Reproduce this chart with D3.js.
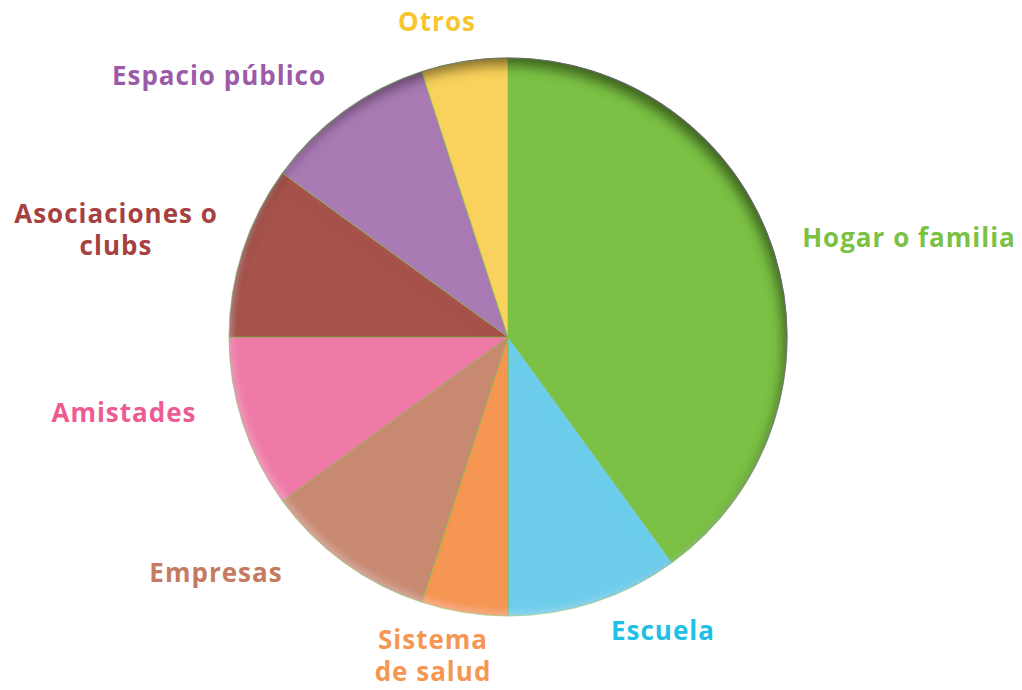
<!DOCTYPE html>
<html>
<head>
<meta charset="utf-8">
<script src="https://cdn.jsdelivr.net/npm/d3@7"></script>
<style>
  body { margin: 0; background: #fff; }
  svg text { font-family: "Open Sans", sans-serif; font-weight: 700; letter-spacing: 1px; }
</style>
</head>
<body>
<svg id="pie" width="1022" height="690"></svg>
<script>
// slices, clockwise from 12 o'clock
var categories = ["Hogar o familia", "Escuela", "Sistema de salud", "Empresas",
                  "Amistades", "Asociaciones o clubs", "Espacio público", "Otros"];
var shares = [40, 10, 5, 10, 10, 10, 10, 5];
var sliceColors = ["#7bc144", "#6dcdeb", "#f59653", "#c98a72",
                   "#ef7aa8", "#a6524b", "#a97ab4", "#f9d15c"];
var labelColors = ["#7bc144", "#1ec0e6", "#f59653", "#c57a62",
                   "#ec5b93", "#a6413f", "#9b5ba8", "#f9c52c"];
// label lines as they are broken in the picture
var labelLines = [["Hogar o familia"], ["Escuela"], ["Sistema", "de salud"], ["Empresas"],
                  ["Amistades"], ["Asociaciones o", "clubs"], ["Espacio público"], ["Otros"]];
// where each label sits (centre x, first baseline y)
var labelPos = [[909, 247], [663, 640], [433, 649], [216, 582],
                [124, 422], [116, 223], [219, 85], [437, 31]];

function drawPie() {
  var svg = d3.select("#pie");
  var cx = 508, cy = 337, radius = 279;

  var defs = svg.append("defs");
  var f = defs.append("filter").attr("id", "inner")
      .attr("x", "-10%").attr("y", "-10%").attr("width", "120%").attr("height", "120%");
  // dark inner shadow along the top-right
  f.append("feOffset").attr("in", "SourceAlpha").attr("dx", -5).attr("dy", 9).attr("result", "off");
  f.append("feGaussianBlur").attr("in", "off").attr("stdDeviation", 6).attr("result", "blur");
  f.append("feComposite").attr("in", "SourceAlpha").attr("in2", "blur")
      .attr("operator", "out").attr("result", "rim");
  f.append("feFlood").attr("flood-color", "#000").attr("flood-opacity", 0.75);
  f.append("feComposite").attr("in2", "rim").attr("operator", "in").attr("result", "shadow");
  // faint light rim along the bottom-left
  f.append("feOffset").attr("in", "SourceAlpha").attr("dx", 3).attr("dy", -4).attr("result", "off2");
  f.append("feGaussianBlur").attr("in", "off2").attr("stdDeviation", 3).attr("result", "blur2");
  f.append("feComposite").attr("in", "SourceAlpha").attr("in2", "blur2")
      .attr("operator", "out").attr("result", "rim2");
  f.append("feFlood").attr("flood-color", "#fff").attr("flood-opacity", 0.18);
  f.append("feComposite").attr("in2", "rim2").attr("operator", "in").attr("result", "light");
  var m = f.append("feMerge");
  m.append("feMergeNode").attr("in", "SourceGraphic");
  m.append("feMergeNode").attr("in", "shadow");
  m.append("feMergeNode").attr("in", "light");

  var grad = defs.append("linearGradient").attr("id", "edge")
      .attr("x1", "0").attr("y1", "1").attr("x2", "1").attr("y2", "0");
  grad.append("stop").attr("offset", "0.45").attr("stop-color", "#888").attr("stop-opacity", 0);
  grad.append("stop").attr("offset", "0.8").attr("stop-color", "#666").attr("stop-opacity", 1);

  var data = categories.map(function(c, i) { return { name: c, value: shares[i], i: i }; });

  var arcs = d3.pie().sort(null).value(function(d) { return d.value; });
  var path = d3.arc().outerRadius(radius).innerRadius(0);

  var g = svg.append("g")
      .attr("transform", "translate(" + cx + "," + cy + ")");

  g.append("g").attr("filter", "url(#inner)")
    .selectAll(".arc")
    .data(arcs(data))
    .enter()
      .append("path")
      .classed("arc", true)
      .attr("fill", function(d) { return sliceColors[d.data.i]; })
      .attr("stroke", "#7bc144")
      .attr("stroke-width", 0.6)
      .attr("d", path);

  g.append("circle")
    .attr("r", radius)
    .attr("fill", "none")
    .attr("stroke", "url(#edge)")
    .attr("stroke-width", 1.2);

  var labels = svg.append("g").selectAll(".label")
    .data(data)
    .enter()
      .append("text")
      .classed("label", true)
      .attr("text-anchor", "middle")
      .attr("font-size", "26px")
      .attr("fill", function(d) { return labelColors[d.i]; })
      .attr("x", function(d) { return labelPos[d.i][0]; })
      .attr("y", function(d) { return labelPos[d.i][1]; });

  labels.selectAll("tspan")
    .data(function(d) { return labelLines[d.i].map(function(t) { return { t: t, x: labelPos[d.i][0] }; }); })
    .enter()
      .append("tspan")
      .attr("x", function(d) { return d.x; })
      .attr("dy", function(d, j) { return j === 0 ? 0 : 32; })
      .text(function(d) { return d.t; });
}

drawPie();
</script>
</body>
</html>
